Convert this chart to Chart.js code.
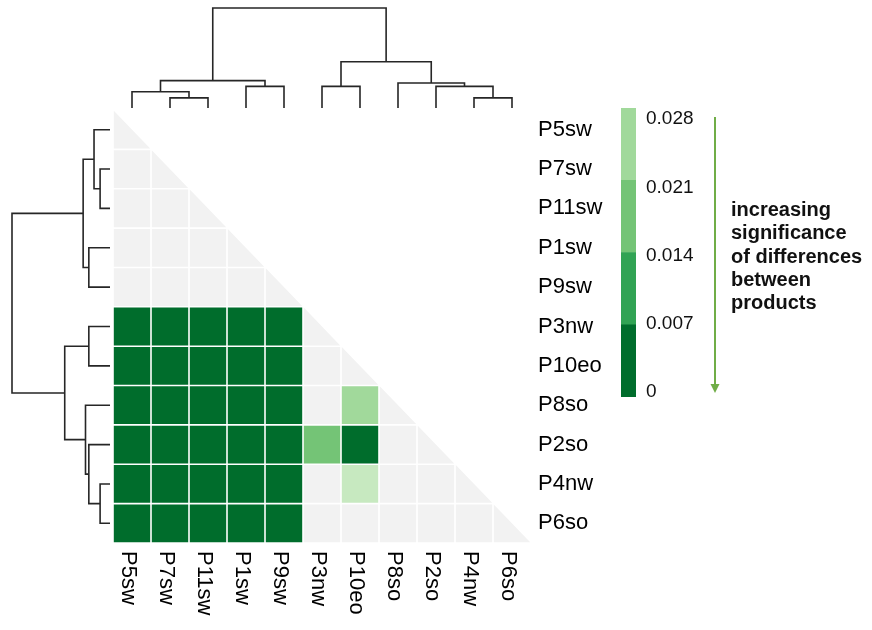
<!DOCTYPE html>
<html>
<head>
<meta charset="utf-8">
<script src="https://cdn.jsdelivr.net/npm/chart.js@4.4.0/dist/chart.umd.min.js"></script>
<style>
  html, body { margin: 0; padding: 0; background: #fff; }
  #wrap { position: relative; width: 872px; height: 630px; overflow: hidden; }
  canvas { position: absolute; }
  #heatmap { left: 0; top: 0; }
  #dendroTop { left: 113px; top: 0; }
  #dendroLeft { left: 0; top: 110px; }
  #legendBar { left: 600px; top: 100px; }
  #note {
    position: absolute; left: 731px; top: 198px;
    font: bold 20px 'Liberation Sans', Arial, sans-serif;
    line-height: 23.3px; color: #111;
  }
</style>
</head>
<body>
<div id="wrap">
  <canvas id="heatmap" width="872" height="630"></canvas>
  <canvas id="dendroTop" width="418" height="110"></canvas>
  <canvas id="dendroLeft" width="113" height="433"></canvas>
  <canvas id="legendBar" width="130" height="310"></canvas>
  <div id="note">increasing<br>significance<br>of differences<br>between<br>products</div>
</div>
<script>
// ===== datos =====
const products = ['P5sw', 'P7sw', 'P11sw', 'P1sw', 'P9sw', 'P3nw', 'P10eo', 'P8so', 'P2so', 'P4nw', 'P6so'];

// p-values, lower triangle (row i, columns 0..i)
const pValues = [
    [1],
    [1, 1],
    [1, 1, 1],
    [1, 1, 1, 1],
    [1, 1, 1, 1, 1],
    [0.001, 0.001, 0.001, 0.001, 0.001, 1],
    [0.001, 0.001, 0.001, 0.001, 0.001, 1, 1],
    [0.001, 0.001, 0.001, 0.001, 0.001, 1, 0.024, 1],
    [0.001, 0.001, 0.001, 0.001, 0.001, 0.017, 0.001, 1, 1],
    [0.001, 0.001, 0.001, 0.001, 0.001, 1, 0.031, 1, 1, 1],
    [0.001, 0.001, 0.001, 0.001, 0.001, 1, 1, 1, 1, 1, 1]
];

const legendBreaks = [0, 0.007, 0.014, 0.021, 0.028];
const legendTickLabels = ['0', '0.007', '0.014', '0.021', '0.028'];
const legendColors = ['#006d2c', '#31a354', '#74c476', '#a1d99b'];
const faintColor = '#c7e9c0';   // 0.028 - 0.05
const nsColor = '#f2f2f2';      // no significativo

// clustering: [a, b, altura]; ids >= 11 son uniones previas
const dendroMerges = [
    [1, 2, 10.1],
    [0, 11, 16.3],
    [3, 4, 21.6],
    [12, 13, 27.4],
    [5, 6, 21.6],
    [9, 10, 10.1],
    [8, 16, 21.6],
    [7, 17, 25.0],
    [15, 18, 46.2],
    [14, 19, 100]
];

const FONT = "'Liberation Sans', Arial, sans-serif";

function cellColor(p) {
    for (let k = 0; k < legendColors.length; k++) {
        if (p < legendBreaks[k + 1]) return legendColors[k];
    }
    if (p < 0.05) return faintColor;
    return nsColor;
}

// ===== heatmap =====
const cells = [];
pValues.forEach((row, i) => row.forEach((v, j) => cells.push({ x: j, y: i, v: v })));

const cellsPlugin = {
    id: 'cells',
    beforeDatasetsDraw(chart) {
        const { ctx, scales: { x, y } } = chart;
        const g = 0.8;
        ctx.save();
        chart.data.datasets[0].data.forEach(d => {
            const x0 = x.getPixelForValue(d.x - 0.5), x1 = x.getPixelForValue(d.x + 0.5);
            const y0 = y.getPixelForValue(d.y - 0.5), y1 = y.getPixelForValue(d.y + 0.5);
            ctx.fillStyle = cellColor(d.v);
            ctx.beginPath();
            if (d.x === d.y) {
                // diagonal: medio triangulo inferior izquierdo
                ctx.moveTo(x0 + g, y0 + g);
                ctx.lineTo(x0 + g, y1 - g);
                ctx.lineTo(x1 - g, y1 - g);
                ctx.closePath();
            } else {
                ctx.rect(x0 + g, y0 + g, x1 - x0 - 2 * g, y1 - y0 - 2 * g);
            }
            ctx.fill();
        });
        ctx.restore();
    },
    afterDraw(chart) {
        // etiquetas inferiores giradas
        const { ctx, scales: { x }, chartArea } = chart;
        ctx.save();
        ctx.fillStyle = '#000';
        ctx.font = '22px ' + FONT;
        ctx.textAlign = 'left';
        ctx.textBaseline = 'middle';
        products.forEach((p, j) => {
            ctx.save();
            ctx.translate(x.getPixelForValue(j) - 4, chartArea.bottom + 8);
            ctx.rotate(Math.PI / 2);
            ctx.fillText(p, 0, 0);
            ctx.restore();
        });
        ctx.restore();
    }
};

new Chart(document.getElementById('heatmap'), {
    type: 'scatter',
    data: { datasets: [{ data: cells, pointRadius: 0, pointHoverRadius: 0 }] },
    options: {
        responsive: false,
        animation: false,
        events: [],
        layout: { padding: { left: 113, top: 110, bottom: 87, right: 0 } },
        plugins: { legend: { display: false }, tooltip: { enabled: false } },
        scales: {
            x: { type: 'linear', display: false, min: -0.5, max: 10.5 },
            y: {
                type: 'linear',
                position: 'right',
                reverse: true,
                min: -0.5,
                max: 10.5,
                afterBuildTicks: s => { s.ticks = products.map((p, i) => ({ value: i })); },
                afterFit: s => { s.width = 341; s.paddingTop = 0; s.paddingBottom = 0; },
                ticks: {
                    autoSkip: false,
                    padding: 7,
                    color: '#000',
                    font: { family: FONT, size: 22 },
                    callback: v => products[v]
                },
                grid: { display: false, drawTicks: false },
                border: { display: false }
            }
        }
    },
    plugins: [cellsPlugin]
});

// ===== dendrogramas =====
function dendroDatasets(horizontal) {
    const n = products.length;
    const pos = {}, hgt = {};
    for (let i = 0; i < n; i++) { pos[i] = i; hgt[i] = 0; }
    return dendroMerges.map(([a, b, h], k) => {
        pos[n + k] = (pos[a] + pos[b]) / 2;
        hgt[n + k] = h;
        const pts = [[pos[a], hgt[a]], [pos[a], h], [pos[b], h], [pos[b], hgt[b]]];
        return {
            data: pts.map(([p, v]) => horizontal ? { x: v, y: p } : { x: p, y: v }),
            showLine: true,
            borderColor: '#262626',
            borderWidth: 1.6,
            pointRadius: 0,
            tension: 0,
            clip: false
        };
    });
}

function dendroOptions(horizontal, padding) {
    const posAxis = { type: 'linear', display: false, min: -0.5, max: 10.5, reverse: horizontal };
    const hAxis = { type: 'linear', display: false, min: 0, max: 100, reverse: horizontal };
    return {
        responsive: false,
        animation: false,
        events: [],
        layout: { padding: padding },
        plugins: { legend: { display: false }, tooltip: { enabled: false } },
        scales: horizontal ? { x: hAxis, y: posAxis } : { x: posAxis, y: hAxis }
    };
}

new Chart(document.getElementById('dendroTop'), {
    type: 'scatter',
    data: { datasets: dendroDatasets(false) },
    options: dendroOptions(false, { top: 8, bottom: 2, left: 0, right: 0 })
});

new Chart(document.getElementById('dendroLeft'), {
    type: 'scatter',
    data: { datasets: dendroDatasets(true) },
    options: dendroOptions(true, { top: 0, bottom: 0, left: 12, right: 3 })
});

// ===== leyenda de color =====
const arrowPlugin = {
    id: 'arrow',
    afterDraw(chart) {
        const { ctx, chartArea } = chart;
        const s = chart.scales.lab;
        const x = chartArea.right + 79;
        const yTop = s.getPixelForValue(legendBreaks[legendBreaks.length - 1]) - 2;
        const yTip = s.getPixelForValue(legendBreaks[0]) + 1;
        ctx.save();
        ctx.strokeStyle = '#70ad47';
        ctx.fillStyle = '#70ad47';
        ctx.lineWidth = 2;
        ctx.beginPath();
        ctx.moveTo(x, yTop);
        ctx.lineTo(x, yTip - 8);
        ctx.stroke();
        ctx.beginPath();
        ctx.moveTo(x - 4.5, yTip - 9);
        ctx.lineTo(x + 4.5, yTip - 9);
        ctx.lineTo(x, yTip);
        ctx.closePath();
        ctx.fill();
        ctx.restore();
    }
};

new Chart(document.getElementById('legendBar'), {
    type: 'bar',
    data: {
        labels: [''],
        datasets: legendColors.map((c, k) => ({
            data: [legendBreaks[k + 1] - legendBreaks[k]],
            backgroundColor: c,
            borderWidth: 0,
            barPercentage: 1,
            categoryPercentage: 1
        }))
    },
    options: {
        responsive: false,
        animation: false,
        events: [],
        layout: { padding: { left: 21, top: 8, bottom: 13, right: 0 } },
        plugins: { legend: { display: false }, tooltip: { enabled: false } },
        scales: {
            x: { display: false, stacked: true },
            y: { display: false, stacked: true, min: 0, max: 0.028 },
            lab: {
                type: 'linear',
                position: 'right',
                min: -0.00051,
                max: 0.02913,
                afterBuildTicks: s => { s.ticks = legendBreaks.map(v => ({ value: v })); },
                afterFit: s => { s.width = 94; s.paddingTop = 0; s.paddingBottom = 0; },
                ticks: {
                    autoSkip: false,
                    padding: 10,
                    color: '#111',
                    font: { family: FONT, size: 19 },
                    callback: (v, i) => legendTickLabels[i]
                },
                grid: { display: false, drawTicks: false },
                border: { display: false }
            }
        }
    },
    plugins: [arrowPlugin]
});
</script>
</body>
</html>
